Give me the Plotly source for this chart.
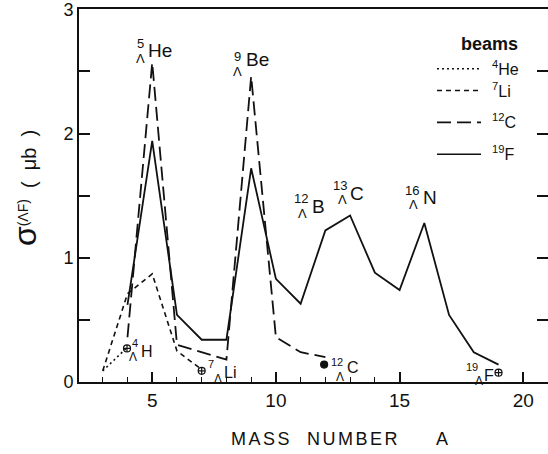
import plotly.graph_objects as go

# ---------------- data ----------------
mass_4He = [3, 4]
sigma_4He = [0.09, 0.28]

mass_7Li = [3, 4, 5, 6, 7]
sigma_7Li = [0.09, 0.71, 0.87, 0.25, 0.10]

mass_12C = [4, 5, 6, 8, 9, 10, 11, 12]
sigma_12C = [0.36, 2.57, 0.30, 0.18, 2.46, 0.36, 0.24, 0.20]

mass_19F = [4, 5, 6, 7, 8, 9, 10, 11, 12, 13, 14, 15, 16, 17, 18, 19]
sigma_19F = [0.62, 1.94, 0.54, 0.34, 0.34, 1.72, 0.83, 0.63, 1.22, 1.34,
             0.88, 0.74, 1.28, 0.54, 0.24, 0.14]

point_mass = [3.98, 7.0, 11.95, 19.0]
point_sigma = [0.27, 0.09, 0.14, 0.075]
point_symbol = ["circle-cross-open", "circle-cross-open", "circle", "circle-cross-open"]

x_tickvals = [5, 10, 15, 20]
x_minor = [3, 4, 6, 7, 8, 9, 11, 12, 13, 14]
y_tickvals = [0, 1, 2, 3]
y_minor = [0.5, 1.5, 2.5]

beam_names = ["4He", "7Li", "12C", "19F"]
beam_labels = ["<sup>4</sup>He", "<sup>7</sup>Li", "<sup>12</sup>C", "<sup>19</sup>F"]
beam_dash = ["2px,3px", "5px,4px", "14px,6px", "solid"]

# ---------------- figure ----------------
W, H = 548, 454
ML, MR, MT, MB = 79, 0, 7, 72
PW, PH = W - ML - MR, H - MT - MB
FONT = "Liberation Sans, Arial, sans-serif"
INK = "#111111"


def px(x):
    return (x - ML) / PW


def py(y):
    return (H - MB - y) / PH


fig = go.Figure()
series = [
    (mass_4He, sigma_4He, beam_dash[0], 1.6),
    (mass_7Li, sigma_7Li, beam_dash[1], 1.6),
    (mass_12C, sigma_12C, beam_dash[2], 1.8),
    (mass_19F, sigma_19F, beam_dash[3], 1.8),
]
for name, (xs, ys, dash, w) in zip(beam_names, series):
    fig.add_trace(go.Scatter(x=xs, y=ys, mode="lines", name=name,
                             line=dict(color=INK, width=w, dash=dash),
                             showlegend=False))

fig.add_trace(go.Scatter(x=point_mass, y=point_sigma, mode="markers",
                         marker=dict(symbol=point_symbol, size=7, color=INK,
                                     line=dict(color=INK, width=1.2)),
                         showlegend=False))
# invisible copy of the markers on a second y axis, which carries the right-hand ticks
fig.add_trace(go.Scatter(x=point_mass, y=point_sigma, yaxis="y2", mode="markers",
                         marker=dict(size=1, opacity=0), showlegend=False,
                         hoverinfo="skip"))


def note(x, y, text, size, anchor="center", angle=0):
    return dict(x=px(x), y=py(y), xref="paper", yref="paper", text=text,
                showarrow=False, xanchor=anchor, yanchor="middle",
                textangle=angle, borderpad=0,
                font=dict(size=size, color=INK, family=FONT))


ann = []
# hypernucleus labels:
# (mass number, num x, num y, lambda x, lambda y, element, element left x, element y, big?)
labels = [
    ("5", 140, 42, 140, 57, "He", 147, 49, True),
    ("9", 237, 55, 237, 70, "Be", 245, 58, True),
    ("12", 301, 198, 302, 213, "B", 311, 206, True),
    ("13", 340, 184, 342, 199, "C", 349, 192, True),
    ("16", 412, 189, 413, 204, "N", 422, 197, True),
    ("4", 135, 343, 133, 357, "H", 140, 351, False),
    ("7", 211, 364, 218, 379, "Li", 223, 372, False),
    ("12", 337, 362, 340, 377, "C", 346, 367, False),
    ("19", 472, 367, 479, 381, "F", 483, 375, False),
]
for num, nx, ny, lx, ly, el, ex, ey, big in labels:
    ns, ls, es = (13, 13, 19) if big else (11, 12, 16)
    ann.append(note(nx, ny, num, ns))
    ann.append(note(lx, ly, "Λ", ls))
    ann.append(note(ex, ey, el, es, anchor="left"))

# legend (manual)
ann.append(note(489, 42, "<b>beams</b>", 18))
leg_rows = [67, 89, 121, 153]
shapes = []
for lab, dash, yy in zip(beam_labels, beam_dash, leg_rows):
    shapes.append(dict(type="line", xref="paper", yref="paper",
                       x0=px(437), x1=px(481), y0=py(yy), y1=py(yy),
                       line=dict(color=INK, width=1.6, dash=dash)))
    ann.append(note(491, yy - 1, lab, 16, anchor="left"))

# axis titles
ann.append(note(25, 187,
                "<span style='font-size:32px'>σ</span><sup>(ΛF)</sup>  (  μb  )",
                20, angle=-90))
ann.append(note(315, 439, "<span style='letter-spacing:2.5px'>MASS  NUMBER</span>", 18))
ann.append(note(442, 439, "A", 18))

ytick_common = dict(ticks="inside", ticklen=11, tickwidth=1.5, tickcolor=INK,
                    tickmode="array", tickvals=y_tickvals,
                    minor=dict(ticks="inside", ticklen=11, tickwidth=1.5,
                               tickcolor=INK, tickmode="array", tickvals=y_minor))

fig.update_layout(
    width=W, height=H,
    margin=dict(l=ML, r=MR, t=MT, b=MB, pad=0),
    paper_bgcolor="white", plot_bgcolor="white",
    annotations=ann, shapes=shapes,
    xaxis=dict(range=[2.04, 21.0], showgrid=False, zeroline=False,
               showline=True, linecolor=INK, linewidth=2, mirror=True,
               ticks="inside", ticklen=10, tickwidth=1.5, tickcolor=INK,
               tickmode="array", tickvals=x_tickvals,
               tickfont=dict(size=19, color=INK, family=FONT),
               minor=dict(ticks="inside", ticklen=5, tickwidth=1.2,
                          tickcolor=INK, tickmode="array", tickvals=x_minor)),
    yaxis=dict(range=[0, 3.002], showgrid=False, zeroline=False,
               showline=True, linecolor=INK, linewidth=2,
               ticklabeloverflow="allow",
               tickfont=dict(size=18, color=INK, family=FONT),
               **ytick_common),
    yaxis2=dict(range=[0, 3.002], overlaying="y", side="right",
                showgrid=False, zeroline=False, showline=False,
                showticklabels=False, **ytick_common),
)

fig.write_html("out.html")
